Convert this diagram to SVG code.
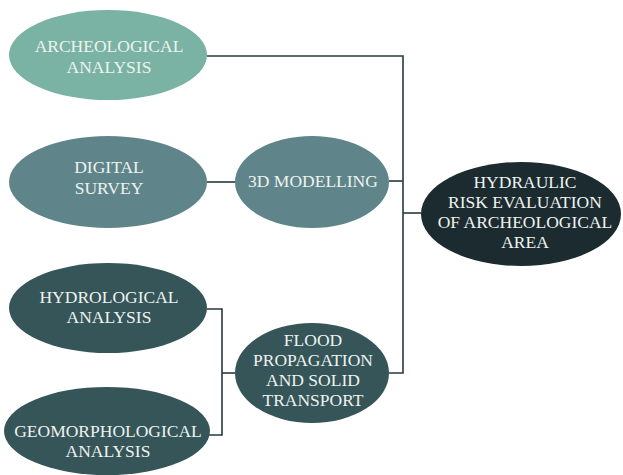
<svg xmlns="http://www.w3.org/2000/svg" width="623" height="475" viewBox="0 0 623 475">
<style>
text{font-family:"Liberation Serif","DejaVu Serif",serif;font-size:17.5px;fill:#eef2f0;text-anchor:middle}
.c{fill:none;stroke:#263a3d;stroke-width:1.6}
</style>
<rect width="623" height="475" fill="#ffffff"/>
<g id="connectors">
<polyline class="c" points="207,56 403,56 403,373 389,373"/>
<line class="c" x1="207" y1="182" x2="236" y2="182"/>
<line class="c" x1="389" y1="181" x2="403" y2="181"/>
<line class="c" x1="403" y1="213" x2="421" y2="213"/>
<polyline class="c" points="207,309 222,309 222,435 209,435"/>
<line class="c" x1="222" y1="373" x2="236" y2="373"/>
</g>
<g id="archeological">
<ellipse cx="108" cy="55" rx="99" ry="45" fill="#7ab3a3"/>
<text x="109" y="52">ARCHEOLOGICAL</text>
<text x="109" y="73">ANALYSIS</text>
</g>
<g id="digital">
<ellipse cx="108" cy="182" rx="99" ry="46" fill="#5f858a"/>
<text x="109" y="173">DIGITAL</text>
<text x="109" y="194">SURVEY</text>
</g>
<g id="modelling">
<ellipse cx="312" cy="182" rx="77" ry="46" fill="#5f858a"/>
<text x="313" y="187">3D MODELLING</text>
</g>
<g id="hydrological">
<ellipse cx="108" cy="308" rx="99" ry="45" fill="#355558"/>
<text x="109" y="303">HYDROLOGICAL</text>
<text x="109" y="323">ANALYSIS</text>
</g>
<g id="geomorphological">
<ellipse cx="107" cy="431" rx="103" ry="44" fill="#355558"/>
<text x="108" y="437">GEOMORPHOLOGICAL</text>
<text x="108" y="457">ANALYSIS</text>
</g>
<g id="flood">
<ellipse cx="312" cy="373" rx="77" ry="50" fill="#355558"/>
<text x="313" y="346">FLOOD</text>
<text x="313" y="366">PROPAGATION</text>
<text x="313" y="386">AND SOLID</text>
<text x="313" y="406">TRANSPORT</text>
</g>
<g id="hydraulic">
<ellipse cx="521" cy="214" rx="100" ry="52" fill="#1c2b2f"/>
<text x="525" y="188">HYDRAULIC</text>
<text x="525" y="208">RISK EVALUATION</text>
<text x="525" y="228">OF ARCHEOLOGICAL</text>
<text x="525" y="248">AREA</text>
</g>
</svg>
